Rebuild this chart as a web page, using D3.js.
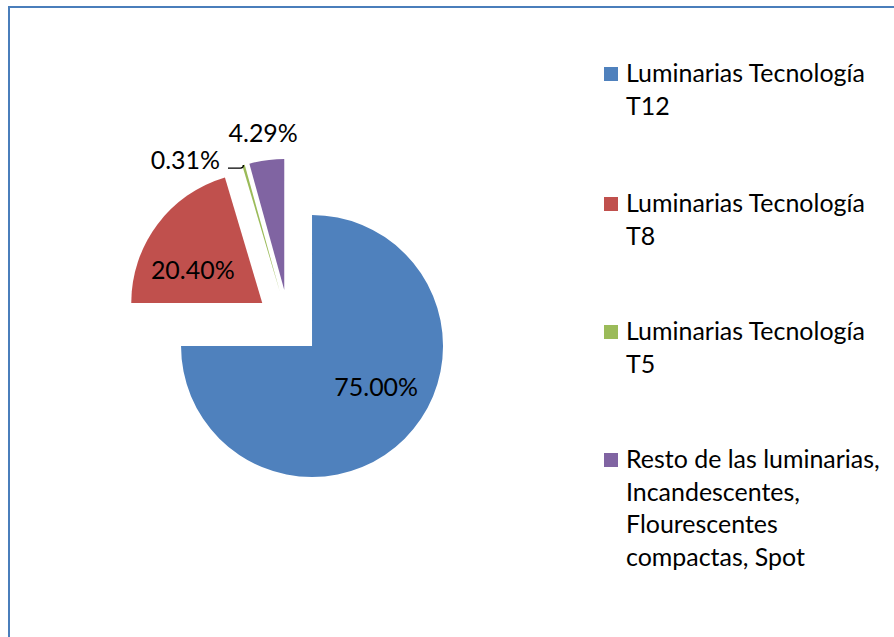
<!DOCTYPE html>
<html>
<head>
<meta charset="utf-8">
<script src="https://cdn.jsdelivr.net/npm/d3@7/dist/d3.min.js"></script>
<style>
  html, body { margin: 0; padding: 0; background: #ffffff; }
  svg { display: block; }
</style>
</head>
<body>
<svg id="chart" width="894" height="637"></svg>
<script>
// ---- data ----
const categories = [
  "Luminarias Tecnología T12",
  "Luminarias Tecnología T8",
  "Luminarias Tecnología T5",
  "Resto de las luminarias, Incandescentes, Flourescentes compactas, Spot"
];
const values = [75.00, 20.40, 0.31, 4.29];
const valueLabels = ["75.00%", "20.40%", "0.31%", "4.29%"];
const colors = ["#4F81BD", "#C0504D", "#9BBB59", "#8064A2"];

// ---- layout ----
const W = 894, H = 637;
const svg = d3.select("#chart");
const FONT = "Lato, 'Open Sans', sans-serif";

// fit font size to reference width of the legend text
const probe = svg.append("text").attr("font-family", FONT).attr("font-size", 100)
  .text("Luminarias Tecnología");
const probeW = probe.node().getComputedTextLength();
probe.remove();
const fs = 100 * 239 / probeW;

// border
svg.append("rect")
  .attr("x", 9).attr("y", 7)
  .attr("width", W + 20).attr("height", H + 20)
  .attr("fill", "none").attr("stroke", "#4a7ebb").attr("stroke-width", 2);

// pie
const cx = 288.7, cy = 322.7, R = 131, explode = 33;
const pie = d3.pie().sort(null).value(d => d)(values);
const arc = d3.arc().innerRadius(0).outerRadius(R);
const polar = (a, r) => [Math.sin(a) * r, -Math.cos(a) * r];

const g = svg.append("g").attr("transform", `translate(${cx},${cy})`);
pie.forEach((p, i) => {
  const mid = (p.startAngle + p.endAngle) / 2;
  const [ox, oy] = polar(mid, explode);
  p.ox = ox; p.oy = oy; p.mid = mid;
  g.append("path")
    .attr("d", arc(p))
    .attr("transform", `translate(${ox},${oy})`)
    .attr("fill", colors[i]);
});

// data labels
const lab = svg.append("g").attr("font-family", FONT).attr("font-size", fs).attr("fill", "#000");
pie.forEach((p, i) => {
  const ax = cx + p.ox, ay = cy + p.oy;
  if (values[i] > 10) {
    const [dx, dy] = polar(p.mid - 12 * Math.PI / 180, 76.5);
    lab.append("text").attr("x", ax + dx).attr("y", ay + dy + 8.5)
      .attr("text-anchor", "middle").text(valueLabels[i]);
  } else if (values[i] > 1) {
    const [dx, dy] = polar(p.mid, R + 26);
    lab.append("text").attr("x", ax + dx).attr("y", ay + dy + 7.5)
      .attr("text-anchor", "middle").text(valueLabels[i]);
  } else {
    const [dx, dy] = polar(p.mid, R);
    const outX = ax + dx, outY = ay + dy;
    lab.append("text").attr("x", outX - 23.5).attr("y", outY + 4.3)
      .attr("text-anchor", "end").text(valueLabels[i]);
    svg.append("path")
      .attr("d", `M${outX - 15.5},${outY + 3}H${outX - 3}Q${outX},${outY + 3} ${outX},${outY}`)
      .attr("fill", "none").attr("stroke", "#000").attr("stroke-width", 1.2);
  }
});

// legend
const legX = 604, textX = 626, maxW = 268, lineH = 32.5;
const firstBaselines = [82, 212, 340, 468];
const leg = svg.append("g").attr("font-family", FONT).attr("font-size", fs).attr("fill", "#000");
categories.forEach((c, i) => {
  const words = c.split(" ");
  const lines = [];
  let cur = "";
  const t = leg.append("text").attr("x", textX);
  words.forEach(w => {
    const test = cur ? cur + " " + w : w;
    t.text(test);
    if (t.node().getComputedTextLength() > maxW && cur) { lines.push(cur); cur = w; }
    else cur = test;
  });
  lines.push(cur);
  t.text(null);
  const b = firstBaselines[i];
  lines.forEach((ln, k) => {
    t.append("tspan").attr("x", textX).attr("y", b + k * lineH).text(ln);
  });
  leg.append("rect").attr("x", legX).attr("y", b - 15).attr("width", 14).attr("height", 14)
    .attr("fill", colors[i]);
});
</script>
</body>
</html>
